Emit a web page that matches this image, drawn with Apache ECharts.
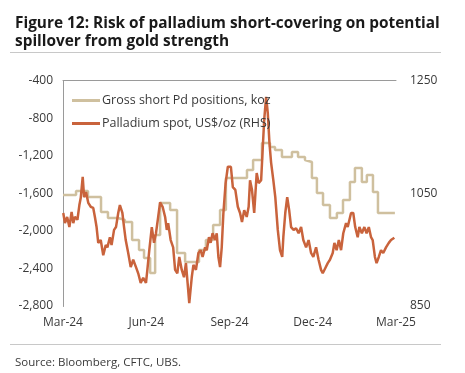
<!DOCTYPE html>
<html><head><meta charset="utf-8">
<script src="https://cdn.jsdelivr.net/npm/echarts@6/dist/echarts.min.js"></script>
<style>html,body{margin:0;padding:0;background:#fff}#c{width:465px;height:373px}</style>
</head><body><div id="c"></div>
<script>
// x = months since Mar-24
var xTickLabels = ['Mar-24','Jun-24','Sep-24','Dec-24','Mar-25'];
var leftTicks = [-2800,-2400,-2000,-1600,-1200,-800,-400];
var rightTicks = [850,1050,1250];

// Gross short Pd positions, koz (weekly, stepped)
var shortX = [0.00,0.47,0.90,1.37,1.62,1.98,2.23,2.49,2.74,2.92,3.14,3.32,3.50,3.86,4.11,4.40,4.65,4.90,5.15,5.41,5.66,5.87,6.63,6.85,7.17,7.46,7.64,7.89,8.25,8.47,8.72,8.79,8.97,9.15,9.37,9.62,9.87,10.09,10.34,10.52,10.77,10.95,11.17,11.35,11.96];
var shortY = [-1618,-1576,-1640,-1799,-1863,-1884,-1906,-2097,-2203,-2289,-2448,-2044,-1703,-1778,-2235,-2331,-2331,-2203,-2097,-1937,-1778,-1437,-1352,-1246,-1065,-1108,-1139,-1214,-1161,-1214,-1246,-1267,-1437,-1597,-1725,-1863,-1810,-1671,-1480,-1331,-1480,-1405,-1586,-1810,-1810];

// Palladium spot, US$/oz (RHS)
var pdX = [0.01,0.07,0.15,0.23,0.31,0.37,0.43,0.52,0.59,0.64,0.71,0.76,0.83,0.91,1.00,1.09,1.15,1.21,1.27,1.36,1.45,1.54,1.60,1.69,1.75,1.84,1.91,1.99,2.05,2.14,2.20,2.26,2.35,2.44,2.53,2.63,2.71,2.80,2.89,2.99,3.04,3.11,3.20,3.28,3.35,3.43,3.50,3.59,3.68,3.74,3.79,3.88,3.97,4.04,4.12,4.19,4.28,4.36,4.43,4.49,4.55,4.64,4.70,4.79,4.88,4.96,5.03,5.12,5.18,5.26,5.32,5.39,5.48,5.54,5.60,5.66,5.72,5.78,5.86,5.94,5.99,6.05,6.12,6.21,6.30,6.38,6.45,6.53,6.62,6.69,6.74,6.81,6.89,6.98,7.05,7.14,7.20,7.25,7.32,7.38,7.44,7.50,7.58,7.65,7.74,7.82,7.90,7.94,8.01,8.08,8.15,8.22,8.31,8.40,8.49,8.58,8.66,8.76,8.85,8.94,9.02,9.12,9.21,9.30,9.36,9.45,9.54,9.62,9.72,9.78,9.86,9.94,10.02,10.10,10.20,10.26,10.32,10.38,10.46,10.53,10.62,10.68,10.77,10.86,10.94,11.02,11.10,11.16,11.24,11.30,11.38,11.46,11.54,11.64,11.74,11.82,11.94];
var pdY = [1015,997,1008,990,1017,997,1008,1003,1029,1042,1079,1043,1052,1033,1026,1024,1008,990,962,967,940,958,954,972,958,985,990,1015,1029,1015,990,967,944,919,932,919,908,891,900,891,914,949,990,962,979,1008,1034,1026,1008,985,997,967,954,914,908,937,914,901,926,891,855,901,923,914,944,949,937,954,949,972,962,979,967,979,937,919,954,1015,1068,1097,1100,1097,1061,1056,1026,1015,999,1020,1008,1026,1073,1056,1015,1086,1068,1073,1132,1180,1221,1192,1139,1104,1073,1043,985,949,937,972,1015,1043,1020,990,985,988,979,990,967,954,967,944,937,954,932,914,908,917,926,932,944,962,949,967,949,979,997,990,990,1015,1015,990,972,990,979,990,979,990,972,967,937,926,937,949,944,954,962,967,971];

var names = ['Gross short Pd positions, koz','Palladium spot, US$/oz (RHS)'];
function zip(a,b){return a.map(function(v,i){return [v,b[i]];});}

var chart = echarts.init(document.getElementById('c'));
var FONT = 'Open Sans';
chart.setOption({
  animation:false,
  textStyle:{fontFamily:FONT},
  title:[{
    text:'Figure 12: Risk of palladium short-covering on potential\nspillover from gold strength',
    left:10, top:10,
    textStyle:{fontFamily:FONT,fontSize:15.4,fontWeight:'bold',color:'#1a1a1a',lineHeight:17.5}
  },{
    text:'Source: Bloomberg, CFTC, UBS.',
    left:10, top:352,
    textStyle:{fontFamily:FONT,fontSize:11.5,fontWeight:'normal',color:'#3a3a3a'}
  }],
  graphic:[
    {type:'line',shape:{x1:10,y1:52.5,x2:441,y2:52.5},style:{stroke:'#c8c8c8',lineWidth:1}},
    {type:'line',shape:{x1:10,y1:344.5,x2:441,y2:344.5},style:{stroke:'#c8c8c8',lineWidth:1}}
  ],
  legend:{
    orient:'vertical', left:67, top:89, itemGap:10,
    itemWidth:28, itemHeight:3, icon:'rect',
    textStyle:{fontFamily:FONT,fontSize:12.5,color:'#3a3a3a',padding:[0,0,0,-3]},
    data:names
  },
  grid:{left:63,right:69,top:80.5,bottom:67},
  xAxis:[{
    type:'value', min:0, max:12, interval:3,
    axisLine:{show:false}, axisTick:{show:false}, splitLine:{show:false},
    axisLabel:{fontFamily:FONT,fontSize:12,color:'#3a3a3a',margin:11,
      formatter:function(v){return xTickLabels[Math.round(v/3)];}}
  },{
    type:'value', min:0, max:12, position:'top',
    axisLine:{show:true,lineStyle:{color:'#9a9a9a',width:1}},
    axisTick:{show:false}, axisLabel:{show:false}, splitLine:{show:false}
  }],
  yAxis:[{
    type:'value', min:leftTicks[0], max:leftTicks[leftTicks.length-1], interval:400,
    axisLine:{show:true,lineStyle:{color:'#222',width:1}},
    axisTick:{show:false}, splitLine:{show:false},
    axisLabel:{fontFamily:FONT,fontSize:12,color:'#3a3a3a',margin:10,
      formatter:function(v){return v.toLocaleString('en-US');}}
  },{
    type:'value', min:rightTicks[0], max:rightTicks[rightTicks.length-1], interval:200,
    position:'right',
    axisLine:{show:true,lineStyle:{color:'#9a9a9a',width:1}},
    axisTick:{show:false}, splitLine:{show:false},
    axisLabel:{fontFamily:FONT,fontSize:12,color:'#3a3a3a',margin:14,
      formatter:function(v){return String(v);}}
  }],
  series:[{
    name:names[0], type:'line', step:'end', yAxisIndex:0, xAxisIndex:0,
    data:zip(shortX,shortY), showSymbol:false, symbol:'none',
    lineStyle:{color:'#cfc09f',width:2.5}, itemStyle:{color:'#cfc09f'}, z:2
  },{
    name:names[1], type:'line', yAxisIndex:1, xAxisIndex:0,
    data:zip(pdX,pdY), showSymbol:false, symbol:'none',
    lineStyle:{color:'#c9633c',width:2.5}, itemStyle:{color:'#c9633c'}, z:3
  }]
});
</script></body></html>
